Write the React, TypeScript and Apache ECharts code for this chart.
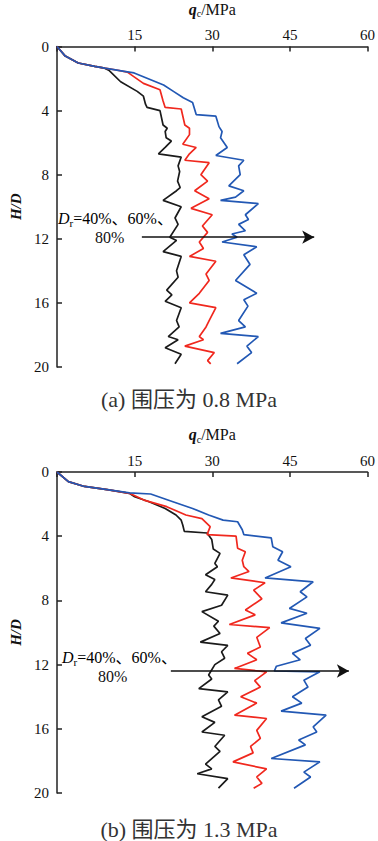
import React, { useEffect, useRef } from "react";
import * as echarts from "echarts";

const xTicks = [0, 15, 30, 45, 60];
const yTicks = [0, 4, 8, 12, 16, 20];
const legendText = ["40%", "60%", "80%"];
const captions = ["(a) 围压为 0.8 MPa", "(b) 围压为 1.3 MPa"];

// [qc (MPa), H/D]
const aBlack: number[][] = [[0,0],[1.6,0.6],[4.1,1.03],[7.3,1.24],[9.2,1.35],[10.1,1.5],[12.3,2.2],[15.5,2.8],[16.7,3.1],[17.1,3.6],[17.4,3.8],[19.9,4.0],[20.5,4.9],[21.3,5.1],[20.9,5.3],[21.1,5.7],[22.1,5.9],[20.9,6.3],[19.6,6.7],[24,6.9],[23.4,7.45],[23.7,7.8],[23.3,8.4],[23.8,8.8],[23.1,9.0],[20.5,9.6],[24,10.0],[22.8,10.7],[23.4,11.1],[21.8,11.9],[23.1,12.1],[20.5,12.8],[24,13.1],[23.1,14.0],[23.4,14.4],[21.2,15.2],[22.2,15.5],[20.9,15.9],[24,16.3],[23.1,17.1],[23.6,17.5],[21.5,18.1],[23.4,18.3],[20.9,18.8],[24,19.2],[22.8,19.8]];
const aRed: number[][] = [[0,0],[1.6,0.6],[4.1,1.03],[7.3,1.24],[9.2,1.35],[11.2,1.45],[13.6,1.6],[16.7,2.3],[19.9,2.7],[20.5,3.4],[20.9,3.8],[24,3.9],[24.7,4.9],[25.6,5.1],[25.6,5.5],[24.3,6.1],[26.9,6.3],[25.6,6.7],[24.7,7.1],[29.4,7.25],[27.8,8.0],[29.1,8.4],[26.6,9.0],[29.4,9.5],[25.9,10.1],[30,10.5],[28.1,11.2],[29.1,11.6],[27.5,12.2],[28.3,12.6],[25.6,13.1],[30.7,13.4],[28.8,14.2],[29.4,14.6],[27.5,15.4],[25.6,16.0],[30.7,16.3],[29.4,17.1],[28.8,17.5],[27.5,18.1],[28.3,18.3],[24.7,18.7],[30.4,19.1],[29.1,19.6],[29.7,19.8]];
const aBlue: number[][] = [[0,0],[1.6,0.6],[4.1,1.03],[7.3,1.24],[9.2,1.35],[13,1.55],[14.9,1.65],[20.6,2.4],[22.5,2.8],[24.4,3.2],[26.2,3.5],[26.9,4.25],[30.7,4.35],[31.3,5.0],[31.9,5.3],[31.6,5.7],[32.9,6.3],[30.7,6.8],[36.1,7.1],[35.1,7.45],[35.4,8.0],[33.2,8.7],[36.1,9.0],[34.5,9.4],[31.6,9.6],[38.9,9.8],[36.4,10.5],[37,10.8],[35.1,11.1],[36.4,11.5],[33.8,11.7],[34.8,11.9],[31.9,12.2],[38.6,12.5],[36.1,13.0],[37.3,13.6],[34.5,14.6],[38.6,15.4],[36.1,15.8],[36.9,16.2],[35.1,17.1],[36.4,17.5],[31.6,17.9],[38.9,18.1],[36.7,18.7],[37.6,19.1],[34.8,19.8]];

const bBlack: number[][] = [[0,0],[2.2,0.6],[5.3,0.9],[9.7,1.1],[14,1.33],[15,1.54],[17.8,1.85],[20.9,2.27],[23,2.68],[24,3.0],[24.3,3.3],[24.6,3.7],[29,3.8],[29.9,4.2],[30.2,4.8],[31.5,5.07],[30.5,5.7],[31,5.9],[28.7,6.4],[30.5,6.7],[29.9,7.0],[28.7,7.46],[33,7.67],[31.8,8.3],[28,8.7],[31.2,9.3],[30.3,9.6],[31.5,10.06],[27.7,10.6],[33,10.8],[31.8,11.2],[32.4,11.6],[30.5,12.0],[29.3,12.65],[29.9,12.9],[27.4,13.5],[33,13.7],[31.2,14.2],[31.8,14.6],[28,15.25],[30.5,15.6],[28,16.2],[32.4,16.4],[30.5,17.1],[31.5,17.4],[28.7,18.2],[29.9,18.5],[27.1,18.8],[33,19.1],[31.2,19.7]];
const bRed: number[][] = [[0,0],[2.2,0.6],[5.3,0.9],[9.7,1.1],[14,1.33],[16.8,1.75],[21.2,2.16],[24.9,2.68],[28,2.9],[29.6,3.4],[29,3.9],[34.6,4.0],[34.9,4.75],[36.4,4.97],[35.8,5.5],[36.1,5.9],[37.1,6.2],[33.6,6.6],[40.2,6.9],[38,7.36],[39.6,7.9],[36.4,8.6],[38.3,8.9],[33.3,9.5],[41.1,9.7],[38.6,10.3],[39.3,10.9],[36.8,11.3],[38.6,11.7],[34.3,12.24],[40.5,12.45],[38.2,13.0],[39.3,13.4],[35.5,14.0],[38.6,14.4],[34.3,15.15],[40.5,15.36],[38.6,16.1],[39.3,16.6],[37.4,17.1],[37.9,17.5],[34,18.06],[40.5,18.5],[38.6,19.0],[39.6,19.4],[38,19.7]];
const bBlue: number[][] = [[0,0],[2.2,0.6],[5.3,0.9],[9.7,1.1],[14,1.3],[18.1,1.37],[22.4,1.85],[26.2,2.27],[29.3,2.68],[32.1,3.0],[34.9,3.1],[35.8,3.6],[36.1,3.9],[41.4,4.1],[41.7,4.65],[43.6,4.97],[42.7,5.5],[45.2,5.9],[40.2,6.6],[49.5,6.84],[47,7.46],[48.3,7.78],[44.9,8.5],[48.3,8.8],[43.3,9.4],[50.8,9.74],[48,10.37],[49,10.8],[45.5,11.3],[47,11.7],[42.4,12.1],[42,12.4],[50.8,12.45],[47.7,12.97],[48.5,13.4],[45.5,14.0],[47.3,14.4],[43.3,14.9],[52,15.15],[49.5,15.88],[50.2,16.2],[46.7,16.7],[48,17.0],[41.4,17.85],[50.8,18.06],[47.7,18.7],[49,19.0],[45.8,19.7]];

// arrow annotation [q start, q end, H]
const arrowA = [16.4, 49.7, 11.9];
const arrowB = [22.0, 56.4, 12.4];

const SERIF = "Times New Roman, Liberation Serif, DejaVu Serif, Noto Sans CJK SC, serif";
const AX = "#222";
const BLACK = "#1b1b1b";
const RED = "#f0281e";
const BLUE = "#2258b4";

export default function App() {
  const ref = useRef<HTMLDivElement>(null);
  useEffect(() => {
    if (!ref.current) return;
    const chart = echarts.init(ref.current, null, { renderer: "svg" });
    const grids = [
      { left: 55, top: 45, width: 317, height: 322 },
      { left: 50, top: 472, width: 321, height: 321 },
    ];
    const mkX = (i: number) => ({
      type: "value",
      gridIndex: i,
      position: "top",
      min: xTicks[0],
      max: xTicks[xTicks.length - 1],
      interval: 15,
      name: "{i|q}{s|c}{n|/MPa}",
      nameLocation: "middle",
      nameGap: 28,
      nameTextStyle: {
        rich: {
          i: { fontFamily: SERIF, fontStyle: "italic", fontWeight: "bold", fontSize: 16, color: "#111" },
          s: { fontFamily: SERIF, fontSize: 10, color: "#111", padding: [9, 0, 0, 0] },
          n: { fontFamily: SERIF, fontSize: 16, color: "#111" },
        },
      },
      axisLine: { show: true, lineStyle: { color: AX, width: 1.5 } },
      axisTick: { show: true, inside: true, length: 5, lineStyle: { color: AX, width: 1.5 } },
      axisLabel: {
        fontFamily: SERIF,
        fontSize: 15,
        color: "#111",
        margin: 4,
        formatter: (v: number) => (v === 0 ? "" : String(v)),
      },
      splitLine: { show: false },
    });
    const mkY = (i: number) => ({
      type: "value",
      gridIndex: i,
      inverse: true,
      min: yTicks[0],
      max: yTicks[yTicks.length - 1],
      interval: 4,
      name: "H/D",
      nameLocation: "middle",
      nameGap: 34,
      nameTextStyle: { fontFamily: SERIF, fontStyle: "italic", fontWeight: "bold", fontSize: 15, color: "#111" },
      axisLine: { show: true, lineStyle: { color: AX, width: 1.5 } },
      axisTick: { show: true, inside: true, length: 5, lineStyle: { color: AX, width: 1.5 } },
      axisLabel: { fontFamily: SERIF, fontSize: 15, color: "#111", margin: 8 },
      splitLine: { show: false },
    });
    const line = (data: number[][], color: string, i: number, extra: any = {}) => ({
      type: "line",
      xAxisIndex: i,
      yAxisIndex: i,
      data,
      showSymbol: false,
      symbol: "none",
      lineStyle: { color, width: 1.7 },
      z: 3,
      ...extra,
    });
    const arrow = (a: number[]) => ({
      markLine: {
        silent: true,
        symbol: ["none", "arrow"],
        symbolSize: [10, 12],
        label: { show: false },
        lineStyle: { color: "#111", width: 1.6, type: "solid" },
        data: [[{ coord: [a[0], a[2]] }, { coord: [a[1], a[2]] }]],
        z: 5,
      },
    });
    const labelRich = {
      i: { fontFamily: SERIF, fontStyle: "italic", fontSize: 16, color: "#111" },
      s: { fontFamily: SERIF, fontSize: 11, color: "#111", padding: [8, 0, 0, 0] },
      n: { fontFamily: SERIF, fontSize: 16, color: "#111" },
    };
    const drText = `{i|D}{s|r}{n|=${legendText[0]}、${legendText[1]}、}`;
    chart.setOption({
      animation: false,
      backgroundColor: "#fff",
      grid: grids,
      xAxis: [mkX(0), mkX(1)],
      yAxis: [mkY(0), mkY(1)],
      series: [
        line(aBlack, BLACK, 0, arrow(arrowA)),
        line(aRed, RED, 0),
        line(aBlue, BLUE, 0),
        line(bBlack, BLACK, 1, arrow(arrowB)),
        line(bRed, RED, 1),
        line(bBlue, BLUE, 1),
      ],
      graphic: [
        { type: "text", left: 58, top: 211, style: { text: drText, rich: labelRich } },
        { type: "text", left: 95, top: 229, style: { text: legendText[2], fontFamily: SERIF, fontSize: 16, fill: "#111" } },
        { type: "text", left: 62, top: 650, style: { text: drText, rich: labelRich } },
        { type: "text", left: 98, top: 668, style: { text: legendText[2], fontFamily: SERIF, fontSize: 16, fill: "#111" } },
        { type: "text", left: "center", top: 388, style: { text: captions[0], fontFamily: SERIF, fontSize: 22, fill: "#333" } },
        { type: "text", left: "center", top: 818, style: { text: captions[1], fontFamily: SERIF, fontSize: 22, fill: "#333" } },
      ],
    });
    return () => chart.dispose();
  }, []);
  return (
    <div
      ref={ref}
      style={{ position: "fixed", left: 0, top: 0, width: 378, height: 841, background: "#fff" }}
    />
  );
}
